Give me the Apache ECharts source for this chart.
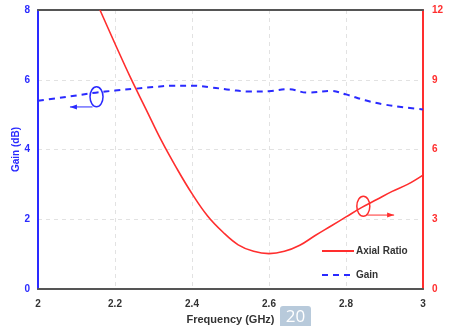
<!DOCTYPE html>
<html>
<head>
<meta charset="utf-8">
<script src="https://cdn.jsdelivr.net/npm/echarts@6/dist/echarts.min.js"></script>
<style>
  html, body { margin: 0; padding: 0; background: #fff; }
  #chart { width: 450px; height: 326px; }
</style>
</head>
<body>
<div id="chart"></div>
<script>
// Frequency sweep (GHz) and measured responses
const gainFreq = [2.00, 2.05, 2.10, 2.15, 2.20, 2.25, 2.30, 2.35, 2.40, 2.45, 2.50, 2.55, 2.60, 2.65, 2.70, 2.76, 2.80, 2.85, 2.90, 2.95, 3.00];
const gainDb   = [5.40, 5.47, 5.55, 5.63, 5.69, 5.74, 5.79, 5.83, 5.83, 5.78, 5.71, 5.66, 5.67, 5.73, 5.63, 5.68, 5.58, 5.41, 5.29, 5.21, 5.15];

const arFreq = [2.161, 2.20, 2.24, 2.28, 2.32, 2.36, 2.40, 2.44, 2.48, 2.52, 2.56, 2.60, 2.64, 2.68, 2.72, 2.76, 2.80, 2.84, 2.88, 2.92, 2.96, 3.00];
const arDb   = [12.0, 10.55, 9.1, 7.75, 6.4, 5.2, 4.1, 3.15, 2.45, 1.9, 1.62, 1.52, 1.62, 1.88, 2.3, 2.7, 3.1, 3.5, 3.85, 4.2, 4.5, 4.9];

// Axis ranges and tick steps
const freqRange = [2, 3, 0.2];
const gainRange = [0, 8, 2];
const arRange = [0, 12, 3];

// Callout ellipses: [freq, value, axis index, arrow end freq, arrow end value]
const gainCallout = [2.152, 5.51, 0, 2.083, 5.22];
const arCallout = [2.845, 3.56, 1, 2.925, 3.18];

const RED = '#ff2e2e';
const BLUE = '#2a2aff';
const DARK = '#333333';
const FONT = '"Liberation Sans", Arial, sans-serif';

const zip = (xs, ys) => xs.map((x, i) => [x, ys[i]]);

const chart = echarts.init(document.getElementById('chart'), null, { renderer: 'canvas' });

const gridDash = { show: true, showMinLine: false, showMaxLine: false,
                   lineStyle: { color: '#e2e2e2', type: [4, 4], width: 1 } };

chart.setOption({
  animation: false,
  backgroundColor: '#ffffff',
  textStyle: { fontFamily: FONT },
  grid: { left: 38, right: 27, top: 10, bottom: 37, containLabel: false, outerBoundsMode: 'none' },
  legend: {
    orient: 'vertical',
    left: 316, top: 241,
    itemWidth: 32, itemHeight: 10, itemGap: 14,
    itemStyle: { opacity: 0, borderWidth: 0 },
    textStyle: { fontFamily: FONT, fontSize: 10, fontWeight: 'bold', color: DARK, padding: [0, 0, 0, -3] },
    data: ['Axial Ratio', 'Gain']
  },
  xAxis: [
    {
      type: 'value',
      min: freqRange[0], max: freqRange[1], interval: freqRange[2],
      name: 'Frequency (GHz)',
      nameLocation: 'middle',
      nameGap: 25,
      nameTextStyle: { fontFamily: FONT, fontSize: 11, fontWeight: 'bold', color: DARK },
      axisLine: { lineStyle: { color: '#555555', width: 2 } },
      axisTick: { show: false },
      axisLabel: { fontFamily: FONT, fontSize: 10, fontWeight: 'bold', color: DARK, margin: 10 },
      splitLine: gridDash
    },
    {
      // top frame edge
      type: 'value',
      position: 'top',
      min: freqRange[0], max: freqRange[1], interval: freqRange[2],
      axisLine: { show: true, onZero: false, lineStyle: { color: '#555555', width: 2 } },
      axisTick: { show: false },
      axisLabel: { show: false },
      splitLine: { show: false }
    }
  ],
  yAxis: [
    {
      type: 'value',
      min: gainRange[0], max: gainRange[1], interval: gainRange[2],
      name: 'Gain (dB)',
      nameLocation: 'middle',
      nameGap: 17,
      nameMoveOverlap: false,
      nameTextStyle: { fontFamily: FONT, fontSize: 10, fontWeight: 'bold', color: BLUE },
      axisLine: { show: true, lineStyle: { color: BLUE, width: 2 } },
      axisTick: { show: false },
      axisLabel: { fontFamily: FONT, fontSize: 10, fontWeight: 'bold', color: BLUE, margin: 8 },
      splitLine: gridDash
    },
    {
      type: 'value',
      position: 'right',
      min: arRange[0], max: arRange[1], interval: arRange[2],
      axisLine: { show: true, lineStyle: { color: RED, width: 2 } },
      axisTick: { show: false },
      axisLabel: { fontFamily: FONT, fontSize: 10, fontWeight: 'bold', color: RED, margin: 9 },
      splitLine: { show: false }
    }
  ],
  series: [
    {
      name: 'Axial Ratio',
      type: 'line',
      yAxisIndex: 1,
      data: zip(arFreq, arDb),
      smooth: 0.4,
      symbol: 'none',
      clip: true,
      color: RED,
      lineStyle: { color: RED, width: 1.6 },
      z: 3
    },
    {
      name: 'Gain',
      type: 'line',
      yAxisIndex: 0,
      data: zip(gainFreq, gainDb),
      smooth: 0.4,
      symbol: 'none',
      color: BLUE,
      lineStyle: { color: BLUE, width: 2, type: [6, 5] },
      z: 2
    }
  ]
});

// Callout ellipses with arrows, placed through the axis scales
function callout(c, color) {
  const center = chart.convertToPixel({ xAxisIndex: 0, yAxisIndex: c[2] }, [c[0], c[1]]);
  const tip = chart.convertToPixel({ xAxisIndex: 0, yAxisIndex: c[2] }, [c[3], c[4]]);
  const rx = 6.5, ry = 10;
  const startX = tip[0] < center[0] ? center[0] - 4 : center[0] + 4;
  const dir = tip[0] < startX ? 1 : -1;
  return [
    { type: 'ellipse', shape: { cx: center[0], cy: center[1], rx: rx, ry: ry },
      style: { fill: 'none', stroke: color, lineWidth: 1.5 }, z: 10 },
    { type: 'line', shape: { x1: startX, y1: tip[1], x2: tip[0], y2: tip[1] },
      style: { stroke: color, lineWidth: 1 }, z: 10 },
    { type: 'polygon',
      shape: { points: [[tip[0], tip[1]], [tip[0] + dir * 7, tip[1] - 2.5], [tip[0] + dir * 7, tip[1] + 2.5]] },
      style: { fill: color }, z: 10 }
  ];
}

chart.setOption({
  graphic: [
    ...callout(gainCallout, BLUE),
    ...callout(arCallout, RED),
    { type: 'rect', shape: { x: 280, y: 306, width: 31, height: 22, r: 3 },
      style: { fill: '#b8cadb' }, z: 20 },
    { type: 'text', x: 295.5, y: 317,
      style: { text: '20', fill: '#ffffff', font: '17px "Open Sans", sans-serif',
               align: 'center', verticalAlign: 'middle' }, z: 21 }
  ]
});
</script>
</body>
</html>
